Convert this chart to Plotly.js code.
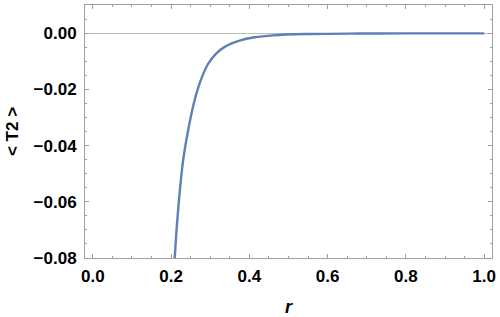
<!DOCTYPE html>
<html>
<head>
<meta charset="utf-8">
<script src="https://cdn.plot.ly/plotly-3.0.1.min.js"></script>
<style>html,body{margin:0;padding:0;background:#fff}#chart{width:500px;height:317px}</style>
</head>
<body>
<div id="chart"></div>
<script>
const rValues = [0.205, 0.209, 0.215, 0.222, 0.230, 0.239, 0.252, 0.262, 0.275, 0.294, 0.315, 0.337, 0.375, 0.413, 0.460, 0.545, 0.680, 0.800, 1.000];
const t2Values = [-0.090, -0.0804, -0.0680, -0.0565, -0.0460, -0.0380, -0.0286, -0.0228, -0.0170, -0.0110, -0.0072, -0.0048, -0.0026, -0.0014, -0.0007, -0.00025, -0.00006, -0.00002, 0];
const xTickVals = [0, 0.2, 0.4, 0.6, 0.8, 1.0];
const yTickVals = [-0.08, -0.06, -0.04, -0.02, 0];
const xTitle = 'r';
const yTitle = '&lt; T2 &gt;';

const frameColor = '#a0a0a0';
const fam = 'Liberation Sans, Arial, sans-serif';
const tickFont = {family: fam, size: 17, weight: 'bold', color: '#000'};

const trace = {
  x: rValues, y: t2Values, type: 'scatter', mode: 'lines',
  line: {color: '#5E81B5', width: 2.4, shape: 'spline', smoothing: 1},
  hoverinfo: 'skip'
};

const layout = {
  width: 500, height: 317,
  margin: {l: 85, r: 8, t: 5, b: 59},
  paper_bgcolor: '#fff', plot_bgcolor: '#fff',
  showlegend: false,
  xaxis: {
    range: [-0.02, 1.02],
    tickvals: xTickVals, tickformat: '.1f',
    ticks: 'inside', ticklen: 4, tickcolor: frameColor, tickwidth: 1,
    minor: {dtick: 0.05, tick0: 0, ticks: 'inside', ticklen: 2, tickcolor: frameColor, showgrid: false},
    showline: true, linecolor: frameColor, linewidth: 1, mirror: 'ticks',
    showgrid: false, zeroline: false,
    tickfont: tickFont, ticklabelstandoff: 3,
    title: {text: xTitle, font: {family: fam, size: 18, weight: 'bold', style: 'italic', color: '#000'}, standoff: 16}
  },
  yaxis: {
    range: [-0.08, 0.0101],
    tickvals: yTickVals, tickformat: '.2f',
    ticks: 'inside', ticklen: 4, tickcolor: frameColor, tickwidth: 1,
    minor: {dtick: 0.005, tick0: 0, ticks: 'inside', ticklen: 2, tickcolor: frameColor, showgrid: false},
    showline: true, linecolor: frameColor, linewidth: 1, mirror: 'ticks',
    showgrid: false, zeroline: true, zerolinecolor: '#bdbdbd', zerolinewidth: 1,
    tickfont: tickFont, ticklabelstandoff: 4,
    title: {text: yTitle, font: {family: fam, size: 17, weight: 'bold', color: '#000'}, standoff: 10}
  }
};

Plotly.newPlot('chart', [trace], layout, {staticPlot: true, displayModeBar: false});
</script>
</body>
</html>
